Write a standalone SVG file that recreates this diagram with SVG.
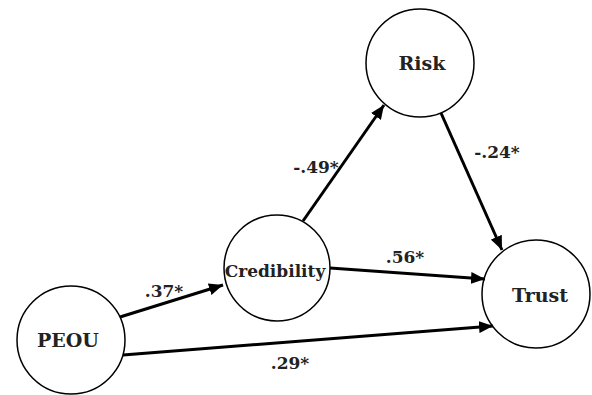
<svg xmlns="http://www.w3.org/2000/svg" width="592" height="395" viewBox="0 0 592 395">
<style>
.node circle{fill:#fff;stroke:#000;stroke-width:1.5}
.node text{font-family:"DejaVu Serif","Liberation Serif",serif;font-weight:bold;font-size:19px;fill:#222;text-anchor:middle}
.edge line{stroke:#000;stroke-width:3}
.lbl{font-family:"DejaVu Serif","Liberation Serif",serif;font-weight:bold;font-size:17px;fill:#222;text-anchor:middle}
</style>
<defs>
<marker id="ah" markerUnits="userSpaceOnUse" markerWidth="14" markerHeight="12" refX="14" refY="6" orient="auto">
<path d="M0,0 L14,6 L0,12 Z" fill="#000"/>
</marker>
</defs>
<rect width="592" height="395" fill="#fff"/>
<g id="PEOU" class="node"><circle cx="71" cy="340" r="54"/><text x="68" y="347">PEOU</text></g>
<g id="Credibility" class="node"><circle cx="277" cy="268" r="53"/><text x="275" y="277" style="font-size:17px">Credibility</text></g>
<g id="Risk" class="node"><circle cx="420" cy="63" r="54"/><text x="422" y="70">Risk</text></g>
<g id="Trust" class="node"><circle cx="536" cy="294" r="54"/><text x="540" y="302">Trust</text></g>
<g id="connectors" class="edge">
<line x1="120" y1="317" x2="223" y2="285" marker-end="url(#ah)"/>
<line x1="123" y1="355" x2="493" y2="326" marker-end="url(#ah)"/>
<line x1="330" y1="268" x2="485" y2="279" marker-end="url(#ah)"/>
<line x1="303" y1="221" x2="384" y2="105" marker-end="url(#ah)"/>
<line x1="441" y1="113" x2="502" y2="250" marker-end="url(#ah)"/>
</g>
<g id="labels">
<text class="lbl" x="164" y="297">.37*</text>
<text class="lbl" x="290" y="369">.29*</text>
<text class="lbl" x="405" y="263">.56*</text>
<text class="lbl" x="316" y="173">-.49*</text>
<text class="lbl" x="497" y="158">-.24*</text>
</g>
</svg>
